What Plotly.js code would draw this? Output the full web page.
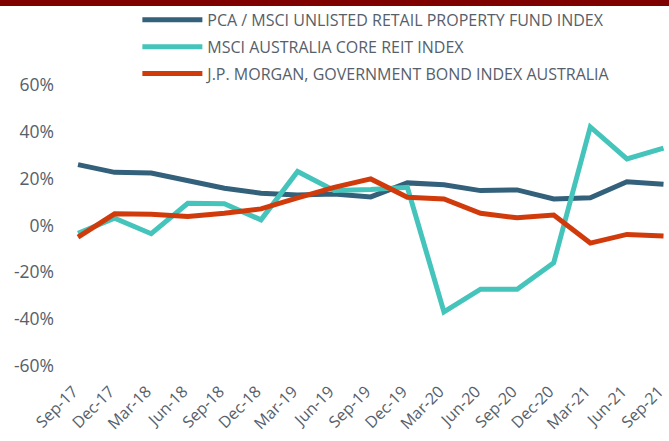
<!DOCTYPE html>
<html>
<head>
<meta charset="utf-8">
<script src="https://cdn.plot.ly/plotly-3.0.1.min.js"></script>
<style>html,body{margin:0;padding:0;background:#fff;}#chart{width:669px;height:441px;}</style>
</head>
<body>
<div id="chart"></div>
<script>
const categories = ["Sep-17","Dec-17","Mar-18","Jun-18","Sep-18","Dec-18","Mar-19","Jun-19","Sep-19","Dec-19","Mar-20","Jun-20","Sep-20","Dec-20","Mar-21","Jun-21","Sep-21"];
const pcaUnlisted = [26.0, 22.7, 22.4, 19.1, 15.9, 13.8, 13.0, 13.5, 12.2, 18.2, 17.4, 14.9, 15.2, 11.3, 11.8, 18.7, 17.6];
const msciReit = [-3.3, 3.1, -3.5, 9.5, 9.3, 2.4, 23.1, 15.0, 15.4, 16.3, -36.9, -27.2, -27.2, -15.9, 42.1, 28.4, 33.0];
const jpmBond = [-5.0, 5.0, 4.8, 3.8, 5.2, 7.1, 11.8, 16.3, 19.9, 12.1, 11.3, 5.2, 3.3, 4.5, -7.5, -3.8, -4.5];
const seriesNames = ["PCA / MSCI UNLISTED RETAIL PROPERTY FUND INDEX", "MSCI AUSTRALIA CORE REIT INDEX", "J.P. MORGAN, GOVERNMENT BOND INDEX AUSTRALIA"];
const yTicks = [-60, -40, -20, 0, 20, 40, 60];

const colors = ["#33607A", "#45C4BB", "#D13B0B"];
const idx = categories.map((c, i) => i);
const xr = [-0.137, categories.length - 1 + 0.15];

const traces = [pcaUnlisted, msciReit, jpmBond].map((vals, k) => ({
  type: "scatter", mode: "lines", name: seriesNames[k],
  x: idx, y: vals, legendgroup: "g" + k,
  line: {color: colors[k], width: 5, shape: "linear"},
  cliponaxis: false, hoverinfo: "skip"
}));

const layout = {
  width: 669, height: 441,
  margin: {l: 73, r: 0, t: 85, b: 75},
  paper_bgcolor: "#fff", plot_bgcolor: "#fff",
  font: {family: "Open Sans, sans-serif", color: "#56606A"},
  showlegend: true,
  legend: {
    x: 0.108, xanchor: "left", y: 1.292, yanchor: "top",
    font: {size: 16, color: "#56606A"},
    itemwidth: 60, tracegroupgap: 3, traceorder: "grouped",
    bgcolor: "rgba(0,0,0,0)"
  },
  xaxis: {
    type: "linear", range: xr,
    tickvals: idx.map(i => i - 0.13), ticktext: categories, tickangle: -45,
    showline: false, ticks: "", showgrid: false, zeroline: false,
    ticklabelstandoff: 12, ticklabeloverflow: "allow",
    tickfont: {size: 16, color: "#56606A"}
  },
  xaxis2: {
    type: "linear", range: xr, overlaying: "x", anchor: "free", position: 0.5, side: "bottom",
    tickvals: idx.map(i => i - 0.16), showticklabels: false,
    showline: true, linecolor: "#9A9A9A", linewidth: 2,
    ticks: "outside", ticklen: 5, tickwidth: 2, tickcolor: "#9A9A9A",
    showgrid: false, zeroline: false
  },
  yaxis: {
    range: [-60, 60], tickvals: yTicks, ticktext: yTicks.map(v => v + "%"),
    showgrid: false, zeroline: false, showline: false, ticks: "",
    ticklabelstandoff: 18,
    tickfont: {size: 17.5, color: "#56606A"}
  },
  shapes: [{
    type: "rect", xref: "paper", yref: "paper",
    x0: -0.2, x1: 1.1, y0: 1.281, y1: 1.32,
    fillcolor: "#7F0000", line: {width: 0}, layer: "above"
  }]
};

Plotly.newPlot("chart", traces, layout, {staticPlot: true});
</script>
</body>
</html>
